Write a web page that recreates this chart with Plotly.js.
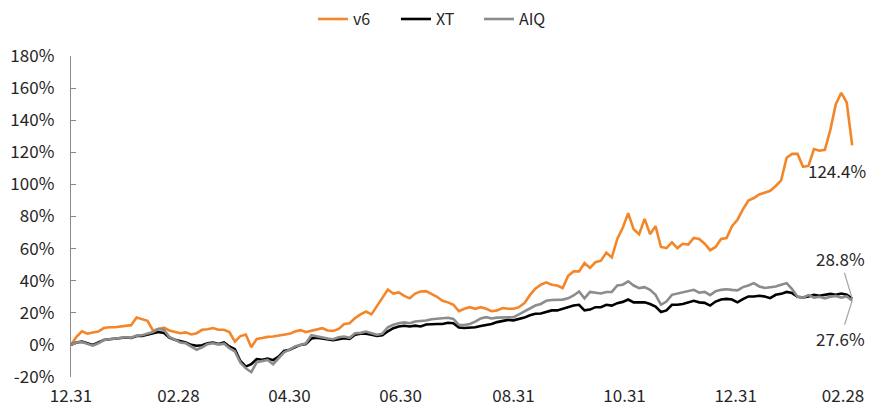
<!DOCTYPE html>
<html>
<head>
<meta charset="utf-8">
<script src="https://cdn.plot.ly/plotly-3.0.1.min.js"></script>
<style>
  html, body { margin: 0; padding: 0; background: #ffffff; }
  #chart { width: 879px; height: 406px; }
</style>
</head>
<body>
<div id="chart"></div>
<script>
// Cumulative return (%) sampled every 3 calendar days from 2024-12-31
const startDate = '2024-12-31';
const stepDays = 3;

const seriesNames = ['v6', 'XT', 'AIQ'];
const seriesColors = ['#F4862A', '#000000', '#8C8C8C'];

const v6 = [
  0, 5, 8.5, 7, 7.7, 8.3, 10.5, 11, 11, 11.5,
  11.9, 12.3, 17, 16, 15, 9, 9.8, 10.8, 9, 8.3,
  7.3, 7.8, 6.5, 7.3, 9.4, 9.8, 10.5, 9.4, 9.4, 8,
  2, 5.5, 6.5, -1.5, 3.7, 4.3, 5, 5.2, 5.8, 6.3,
  6.9, 8.3, 9.2, 8, 8.75, 9.8, 10.4, 9, 8.75, 10,
  13, 13.5, 16.7, 19, 20.8, 19, 24, 29, 34.5, 32,
  32.7, 30.5, 29, 32, 33.3, 33.5, 32, 30, 27.5, 26.5,
  25, 21, 22.5, 23.5, 22.5, 23.5, 22.5, 21, 21.5, 23,
  22.5, 22.5, 23.5, 26, 31, 35, 37.5, 39, 37.5, 37,
  35.5, 43, 45.8, 45.8, 51, 48, 51.5, 52.5, 57.5, 54.5,
  66, 73, 82, 72, 69, 78.5, 69, 74, 61, 60.3,
  63.9, 60.3, 63, 62.5, 66.6, 66, 63, 59, 61, 66,
  66.6, 73.9, 78, 84.5, 90, 91.5, 93.7, 95, 96, 99,
  102.5, 116.6, 119, 119, 111, 111.5, 122, 121, 121.5, 134,
  150, 157, 151, 124.4
];

const xt = [
  0, 1.5, 2, 1, 0, 1.5, 3, 3.5, 3.8, 4.5,
  4.6, 4.3, 5.5, 5.6, 6.5, 7.3, 8, 7.5, 4.5, 3.2,
  2.2, 1.5, 0, -0.5, -0.2, 1, 1.5, 0.6, 1.5, -1,
  -2.7, -10, -13.5, -12, -8.8, -9.2, -8.5, -9.5, -7.3, -3.8,
  -3, -1.5, 0, 0.5, 4, 4.5, 4, 3.1, 3, 3.5,
  4.2, 3.8, 6.3, 7, 7, 6.3, 5.6, 6, 8.5, 10.4,
  11.5, 11.9, 11.5, 12, 11.5, 12.7, 13, 13, 13, 13.8,
  13.5, 10.8, 10.5, 10.8, 11, 11.8, 12.5, 13, 14.2, 15,
  15.6, 15.3, 16, 17, 18.5, 19.4, 19.6, 20.5, 21.5, 21.5,
  22.5, 23.5, 24.5, 25, 21.5, 22, 23.5, 23.5, 25, 24.5,
  26, 26.8, 28.3, 26.5, 26.5, 26.5, 25.5, 23.9, 20.5, 21.5,
  25, 25, 25.5, 26.5, 27.5, 26.5, 26.2, 24.5, 27, 28.3,
  28.7, 28.3, 26.5, 28.5, 30.2, 30.2, 30.6, 30.2, 29.1, 31.2,
  31.8, 33, 32.3, 30, 29.5, 30.2, 31.2, 30.6, 31.2, 31.8,
  31.2, 32, 31.2, 28.8
];

const aiq = [
  0, 1.5, 1.8, 0.8, -0.5, 1, 3, 3.5, 3.8, 4.5,
  4.8, 4.5, 5.8, 6, 7, 8, 10, 9.5, 5, 3,
  1.5, 1, -1, -3, -1.5, 0.5, 1, 0.2, 0.8, -2,
  -4, -11, -14.6, -17, -10.8, -10.2, -9.4, -12, -8.5, -4.6,
  -3, -1, 0, 1, 6, 5.2, 4.8, 4, 3.5, 4.8,
  5.2, 4.4, 7.3, 7.5, 8.3, 7.3, 6.3, 7, 11, 12.5,
  13.5, 14, 13.5, 14.6, 14.8, 15.2, 16, 16.2, 16.5, 16.9,
  16.2, 12.5, 12.4, 13, 14.5, 16.5, 17.3, 16.5, 17, 17,
  17.3, 17.3, 19, 21, 23, 24.5, 25.5, 27.5, 28, 28,
  28.2, 29, 30.8, 33.3, 29, 33, 32.3, 32, 33, 33,
  37, 37.5, 39.6, 37, 35.4, 36, 34.3, 31.2, 25, 27,
  31.2, 32, 33, 33.8, 34.3, 32.5, 33, 31, 33.5, 34.3,
  34.7, 34.3, 34, 36, 37, 38.5, 36.4, 35.5, 36, 36.4,
  37.5, 38.5, 34.8, 30, 29.5, 31, 29.5, 30, 29, 30,
  30.5, 29.5, 30.2, 27.6
];

const tickDates = ['2024-12-31', '2025-02-28', '2025-04-30', '2025-06-30',
                   '2025-08-31', '2025-10-31', '2025-12-31', '2026-02-28'];
const tickLabels = ['12.31', '02.28', '04.30', '06.30', '08.31', '10.31', '12.31', '02.28'];
const yTickVals = [-20, 0, 20, 40, 60, 80, 100, 120, 140, 160, 180];

const DAY_MS = 86400000;
const xRange = ['2024-12-31', '2026-03-06'];

const allSeries = [v6, xt, aiq];
const traces = allSeries.map((vals, k) => ({
  type: 'scatter',
  mode: 'lines',
  name: seriesNames[k],
  x0: startDate,
  dx: stepDays * DAY_MS,
  y: vals,
  line: { color: seriesColors[k], width: 2.6 },
  hoverinfo: 'skip'
}));

// date of the last sample, used to pin the end-value labels
function lastDate(vals) {
  const t = Date.UTC(2024, 11, 31) + (vals.length - 1) * stepDays * DAY_MS;
  return new Date(t).toISOString().slice(0, 10);
}
const endV6 = v6[v6.length - 1];
const endXt = xt[xt.length - 1];
const endAiq = aiq[aiq.length - 1];

const labelFont = { family: 'Noto Sans CJK KR, Noto Sans, sans-serif', size: 17, color: '#262626' };

const layout = {
  width: 879,
  height: 406,
  margin: { l: 71, r: 25, t: 56, b: 29, pad: 0, autoexpand: false },
  paper_bgcolor: '#ffffff',
  plot_bgcolor: '#ffffff',
  font: labelFont,
  showlegend: true,
  legend: {
    orientation: 'h',
    x: 0.468, xanchor: 'center',
    y: 1.115, yanchor: 'middle',
    font: { family: 'Noto Sans CJK KR, sans-serif', size: 16, color: '#262626' },
    entrywidth: 38,
    entrywidthmode: 'pixels',
    tracegroupgap: 0
  },
  xaxis: {
    type: 'date',
    range: xRange,
    showgrid: false,
    zeroline: false,
    showline: false,
    ticks: '',
    tickmode: 'array',
    tickvals: tickDates,
    ticktext: tickLabels,
    tickfont: labelFont,
    ticklabelstandoff: 7
  },
  // axis line running along the 0% level, with small upward tick marks
  xaxis2: {
    type: 'date',
    overlaying: 'x',
    anchor: 'free',
    position: 0.1,
    range: xRange,
    showgrid: false,
    zeroline: false,
    showline: true,
    linecolor: '#8a8a8a',
    linewidth: 1.3,
    ticks: 'inside',
    ticklen: 5,
    tickwidth: 1.2,
    tickcolor: '#8a8a8a',
    tickmode: 'array',
    tickvals: tickDates,
    showticklabels: false
  },
  yaxis: {
    range: [-20, 180],
    showgrid: false,
    zeroline: false,
    showline: true,
    linecolor: '#8a8a8a',
    linewidth: 1.3,
    ticks: 'inside',
    ticklen: 5,
    tickwidth: 1.2,
    tickcolor: '#8a8a8a',
    tickmode: 'array',
    tickvals: yTickVals,
    ticktext: yTickVals.map(v => v + '%'),
    tickfont: labelFont,
    ticklabelstandoff: 12
  },
  annotations: [
    {
      x: lastDate(v6), y: endV6, xref: 'x', yref: 'y',
      text: endV6.toFixed(1) + '%',
      showarrow: false,
      xanchor: 'center', yanchor: 'middle',
      xshift: -15, yshift: -25,
      font: labelFont
    },
    {
      x: lastDate(xt), y: endXt, xref: 'x', yref: 'y',
      text: endXt.toFixed(1) + '%',
      showarrow: true, arrowhead: 0, arrowwidth: 1.3, arrowcolor: '#a6a6a6',
      ax: -12, ay: -40,
      font: labelFont
    },
    {
      x: lastDate(aiq), y: endAiq, xref: 'x', yref: 'y',
      text: endAiq.toFixed(1) + '%',
      showarrow: true, arrowhead: 0, arrowwidth: 1.3, arrowcolor: '#a6a6a6',
      ax: -12, ay: 38,
      font: labelFont
    }
  ]
};

Plotly.newPlot('chart', traces, layout, { staticPlot: true, displayModeBar: false });
</script>
</body>
</html>
